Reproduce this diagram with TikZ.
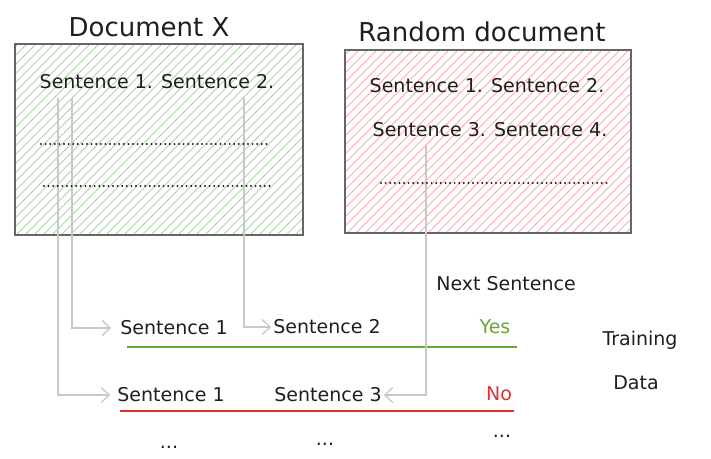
\documentclass[tikz,border=0pt]{standalone}
\usepackage{fontspec}
\setmainfont{DejaVu Sans}
\usepackage{xcolor}
\usepackage{tikz}
\usetikzlibrary{arrows.meta, positioning, backgrounds}
\definecolor{inkc}{HTML}{1E1E1E}
\definecolor{boxgray}{HTML}{666666}
\definecolor{hatchgreen}{HTML}{A6D8A0}
\definecolor{hatchred}{HTML}{FFAAAA}
\definecolor{feedgray}{HTML}{C8C8C8}
\definecolor{yesgreen}{HTML}{66A830}
\definecolor{nored}{HTML}{E03131}
\newcommand{\bodyfont}{\fontsize{19}{22}\selectfont}
\newcommand{\titlefont}{\fontsize{26}{30}\selectfont}
\tikzset{
  docbox/.style={draw=boxgray, line width=1.4pt, inner sep=0pt},
  hatch/.style={line width=0.9pt},
  title/.style={text=inkc, font=\titlefont, inner sep=1pt},
  sent/.style={text=inkc, font=\bodyfont, inner sep=2pt},
  dotmark/.style={fill=inkc},
  feed/.style={-{Straight Barb[length=8pt, width=15pt]}, feedgray, line width=1.3pt},
  okline/.style={yesgreen, line width=2.4pt},
  badline/.style={nored, line width=2.4pt},
  every node/.style={text=inkc}
}

\begin{document}
\begin{tikzpicture}[x=1pt, y=-1pt]
    \useasboundingbox (0,0) rectangle (711,458);

    % the two documents
    \node[docbox, minimum width=288pt, minimum height=191pt] (docx) at (159,139.5) {};
    \node[docbox, minimum width=286pt, minimum height=183pt] (rnd) at (488,141.5) {};
    \begin{scope}[on background layer]
      \begin{scope}
        \clip (docx.south west) rectangle (docx.north east);
        \foreach \a in {-200,-191,...,310}
          \draw[hatch, hatchgreen] (\a,235) -- ++(200,-200);
      \end{scope}
      \begin{scope}
        \clip (rnd.south west) rectangle (rnd.north east);
        \foreach \a in {140,149,...,640}
          \draw[hatch, hatchred] (\a,233) -- ++(200,-200);
      \end{scope}
    \end{scope}
    \node[title] (docxtitle) at (149,27) {Document X};
    \node[title] (rndtitle) at (482,32) {Random document};

    \node[sent] (docxs12) at (157,82) {Sentence 1. Sentence 2.};
    \node[sent] (rnds12) at (487,86) {Sentence 1. Sentence 2.};
    \node[sent] (rnds34) at (490,130) {Sentence 3. Sentence 4.};

    % training pairs
    \node[sent] (nextsent) at (506,284) {Next Sentence};
    \node[sent] (r1s1) at (174,328) {Sentence 1};
    \node[sent] (r1s2) at (327,327) {Sentence 2};
    \node[sent, text=yesgreen] (yes) at (495,327) {Yes};
    \node[sent] (r2s1) at (171,395) {Sentence 1};
    \node[sent] (r2s3) at (328,395) {Sentence 3};
    \node[sent, text=nored] (no) at (499,394) {No};
    \node[sent] (training) at (640,340) {Training};
    \node[sent] (data) at (636,383) {Data};
    \node[sent] (more1) at (169,447) {...};
    \node[sent] (more2) at (325,444) {...};
    \node[sent] (more3) at (502,436) {...};

    \draw[okline] (127,347) -- (517,347);
    \draw[badline] (120,411) -- (514,411);

    % where each sentence comes from
    \coordinate (x1) at (58,98);
    \coordinate (x2) at (72,98);
    \coordinate (x3) at (244,98);
    \coordinate (x4) at (426,145);

    \draw[feed, shorten >=7pt] (x2) |- (r1s1.west);
    \draw[feed] (x3) |- (r1s2.west);
    \draw[feed, shorten >=5pt] (x1) |- (r2s1.west);
    \draw[feed] (x4) |- (r2s3.east);

    % dotted rest of the text
    \foreach \i in {0,...,49} {
      \fill[dotmark] (41+\i*4.6,144) circle (1.1pt);
      \fill[dotmark] (44+\i*4.6,186) circle (1.1pt);
      \fill[dotmark] (381+\i*4.6,183) circle (1.1pt);
    }
\end{tikzpicture}
\end{document}
